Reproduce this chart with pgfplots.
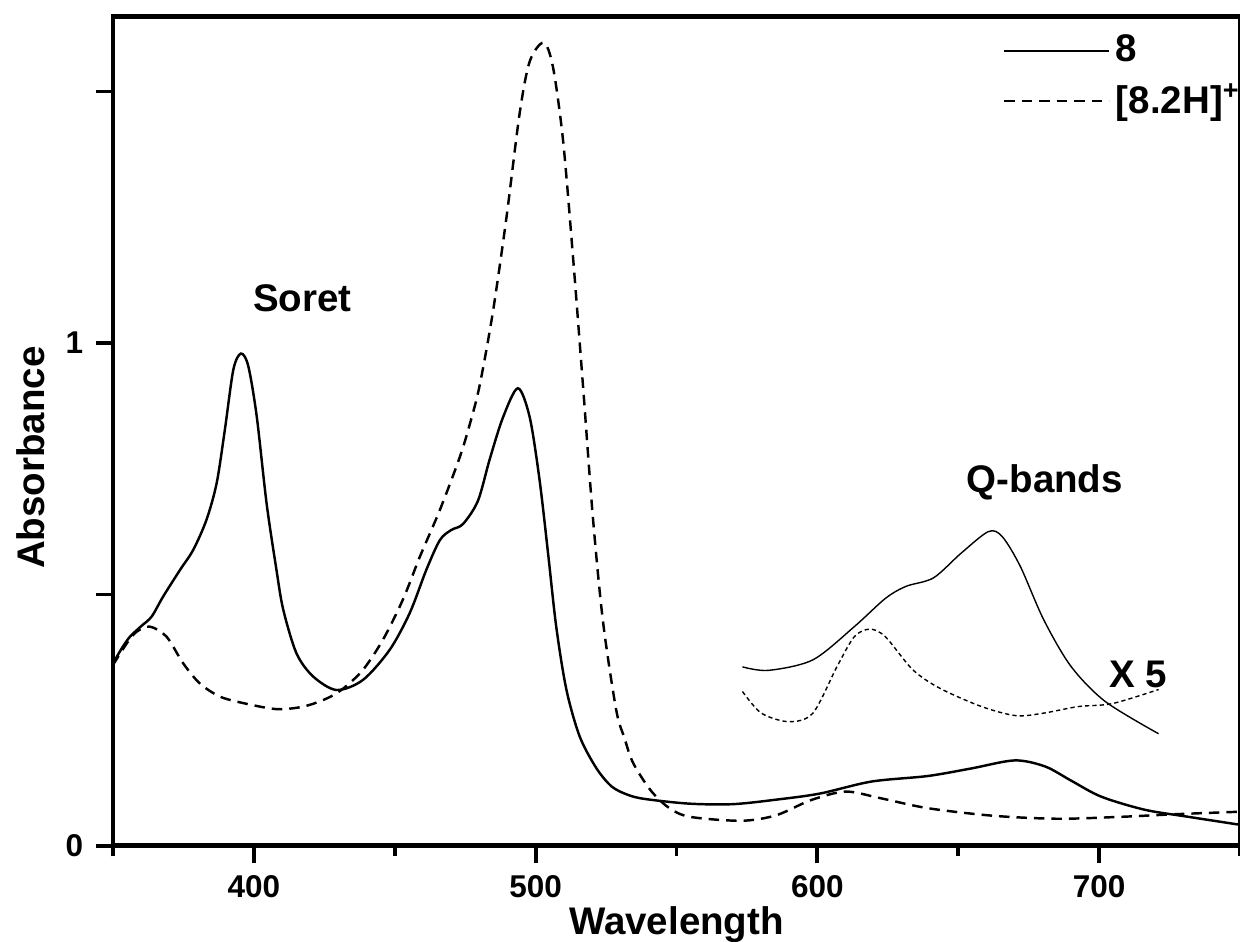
\documentclass[border=0pt]{standalone}
\usepackage{fontspec}
\setmainfont{Liberation Sans}
\usepackage{pgfplots}
\pgfplotsset{compat=1.18}

\newcommand{\lab}{\bfseries\fontsize{11}{13}\selectfont}

\begin{document}
\begin{tikzpicture}
\begin{axis}[
    scale only axis,
    width=322pt, height=237.1pt,
    xmin=350, xmax=750,
    ymin=0, ymax=1.65,
    axis line style={line width=1.4pt},
    xtick={400,500,600,700},
    xticklabels={400,500,600,700},
    minor xtick={350,450,550,650,750},
    ytick={0,0.5,1,1.5},
    yticklabels={0,,1,},
    xtick pos=bottom, ytick pos=left,
    tick align=outside,
    major tick length=5pt, minor tick length=3pt,
    tick style={line width=1.1pt, black},
    tick label style={font=\bfseries\fontsize{9}{10}\selectfont},
    xlabel={Wavelength}, ylabel={Absorbance},
    label style={font=\lab},
    xlabel style={at={(axis description cs:0.5,0)}, anchor=north, inner sep=0pt, yshift=-17pt},
    ylabel style={at={(axis description cs:0,0.468)}, anchor=center, inner sep=0pt, yshift=23.6pt},
    legend cell align=left,
    legend style={draw=none, fill=none, at={(axis description cs:0.789,0.985)},
        anchor=north west, inner sep=0pt, row sep=1.5pt,
        font=\bfseries\fontsize{11}{13}\selectfont, nodes={inner sep=1.6pt}},
    legend image code/.code={\draw[#1] (0pt,0pt) -- (30pt,0pt);},
]

% compound 8
\addplot[black, line width=0.7pt, smooth] coordinates {
(350,0.363) (353,0.392) (356,0.416) (360,0.437) (363.7,0.456) (367.8,0.496)
(373.8,0.549) (378.5,0.589) (383.2,0.649) (386.8,0.722) (389.7,0.828)
(392.7,0.947) (395.4,0.979) (398,0.954) (401,0.854) (404.5,0.681) (408,0.549)
(410.4,0.470) (415.1,0.383) (421,0.337) (429.3,0.310) (438.7,0.330)
(448.2,0.390) (455.3,0.463) (461.2,0.549) (466,0.608) (470,0.628)
(474.2,0.640) (479.5,0.686) (483.7,0.769) (488.4,0.852) (493.7,0.910)
(497.9,0.852) (501.4,0.727) (504.4,0.582) (507.3,0.436) (510.9,0.311)
(515.6,0.218) (521.5,0.155) (527,0.118) (533,0.101) (539.2,0.093)
(554.6,0.084) (570,0.083) (585.4,0.092) (600.8,0.104) (619.2,0.128)
(639.2,0.139) (654.6,0.154) (670,0.170) (680.8,0.158) (690,0.130)
(700.7,0.098) (716.1,0.072) (731.5,0.058) (750,0.042)
};
\addlegendentry{8}

% protonated [8.2H]+
\addplot[black, line width=0.7pt, dash pattern=on 3pt off 2pt, smooth] coordinates {
(350,0.360) (354.9,0.403) (358.4,0.426) (363.1,0.436) (369,0.416)
(374.9,0.363) (380.8,0.323) (387.9,0.297) (396.2,0.284) (408,0.272)
(417.5,0.277) (425.8,0.293) (431.7,0.313) (438.7,0.350) (445.8,0.410)
(452.9,0.490) (458.9,0.575) (466,0.668) (473,0.772) (476.6,0.838)
(480.1,0.915) (484.8,1.061) (489.6,1.248) (494.3,1.456) (497.9,1.560)
(502.8,1.597) (506.1,1.550) (509.7,1.404) (513.2,1.175) (516.8,0.915)
(520.3,0.654) (523.9,0.446) (528.6,0.270) (531.5,0.215) (534.5,0.166)
(540.6,0.112) (547,0.077) (554.6,0.058) (573,0.050) (585.4,0.061)
(597.7,0.091) (610,0.108) (622.3,0.095) (639.2,0.075) (662.3,0.060)
(685.4,0.054) (708.4,0.058) (726.9,0.063) (750,0.068)
};
\addlegendentry{[8.2H]\textsuperscript{+}}

% Q-bands x5
\addplot[black, line width=0.4pt, smooth, forget plot] coordinates {
(573.4,0.356) (582.6,0.349) (598.4,0.370) (613.1,0.436) (624.1,0.492)
(631.4,0.516) (641.2,0.533) (651,0.582) (660.7,0.625) (665.6,0.615)
(672,0.556) (680.3,0.450) (690,0.357) (702.2,0.287) (721.1,0.223)
};
\addplot[black, line width=0.4pt, dash pattern=on 1.2pt off 0.9pt, smooth, forget plot] coordinates {
(573.4,0.307) (580.1,0.264) (589.9,0.247) (598.4,0.264) (607,0.357)
(613.1,0.416) (618.6,0.431) (624.1,0.416) (633.9,0.350) (643.6,0.313)
(658.3,0.277) (670.5,0.259) (680.3,0.264) (692.5,0.277) (704.7,0.283)
(721.1,0.311)
};

\node[font=\lab] at (axis cs:417.2,1.088) {Soret};
\node[font=\lab] at (axis cs:680.7,0.722) {Q-bands};
\node[font=\lab] at (axis cs:713.8,0.340) {X 5};

\coordinate (sw) at (rel axis cs:0,0);
\coordinate (ne) at (rel axis cs:1,1);
\end{axis}
\pgfresetboundingbox
\path (sw) ++(-32.3pt,-27.4pt) rectangle ([yshift=4.6pt]ne);
\end{tikzpicture}
\end{document}
